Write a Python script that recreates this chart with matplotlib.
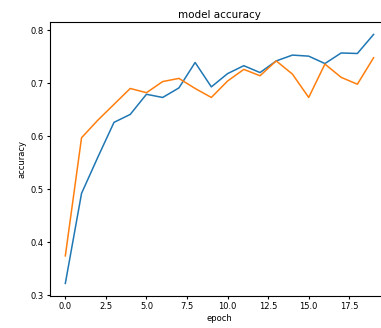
import matplotlib
matplotlib.use("Agg")
import matplotlib.pyplot as plt

# accuracy per epoch
epochs = list(range(20))
train_acc = [0.322, 0.492, 0.560, 0.626, 0.641, 0.679, 0.673, 0.691, 0.739, 0.693,
             0.718, 0.733, 0.720, 0.742, 0.753, 0.751, 0.737, 0.757, 0.756, 0.792]
val_acc = [0.374, 0.597, 0.630, 0.660, 0.690, 0.682, 0.703, 0.709, 0.690, 0.673,
           0.704, 0.726, 0.714, 0.742, 0.717, 0.673, 0.736, 0.711, 0.698, 0.748]

fig = plt.figure(figsize=(3.81, 3.28), dpi=100)
ax = fig.add_axes([0.131, 0.098, 0.89, 0.835])

ax.plot(epochs, train_acc, lw=1.1)
ax.plot(epochs, val_acc, lw=1.1)

# labels
ax.set_title('model accuracy', fontsize=7.5, pad=3)
ax.set_xlabel('epoch', fontsize=6, labelpad=2)
ax.set_ylabel('accuracy', fontsize=6, labelpad=3)
ax.tick_params(labelsize=6, length=2.5, pad=2)

fig.savefig('out.png', dpi=100)
